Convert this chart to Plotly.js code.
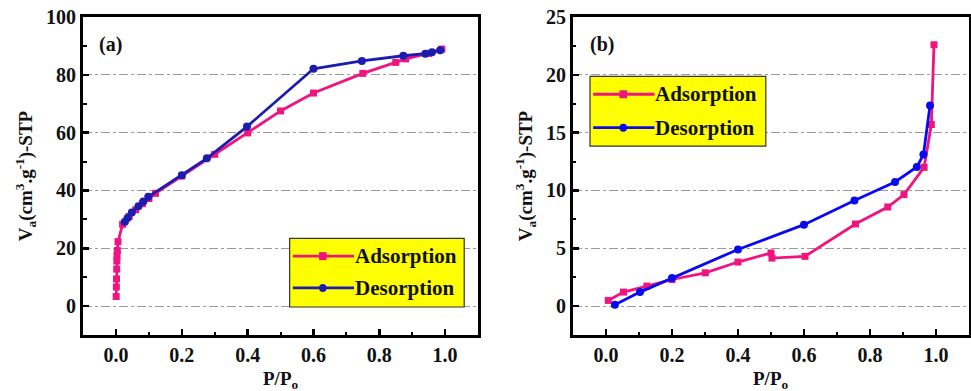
<!DOCTYPE html>
<html>
<head>
<meta charset="utf-8">
<script src="https://cdn.plot.ly/plotly-3.0.1.min.js"></script>
<style>
  html, body { margin: 0; padding: 0; background: #ffffff; }
  #chart { width: 971px; height: 391px; }
</style>
</head>
<body>
<div id="chart"></div>
<script>
// N2 isotherms, panel (a)
const adsA_x = [0.0005, 0.001, 0.0015, 0.002, 0.0025, 0.003, 0.004, 0.006, 0.02, 0.04, 0.06, 0.08, 0.1, 0.12, 0.2, 0.3, 0.4, 0.5, 0.6, 0.75, 0.85, 0.88, 0.95, 0.99];
const adsA_y = [3.3, 6.6, 9.4, 12.8, 15.6, 17.4, 19.2, 22.3, 28.3, 31.0, 33.3, 35.4, 37.2, 39.0, 45.0, 52.5, 59.9, 67.5, 73.7, 80.5, 84.3, 85.5, 87.4, 88.9];
const desA_x = [0.985, 0.96, 0.94, 0.873, 0.747, 0.6, 0.398, 0.276, 0.2, 0.098, 0.083, 0.068, 0.048, 0.035, 0.027];
const desA_y = [88.5, 87.8, 87.3, 86.6, 84.8, 82.1, 62.1, 51.1, 45.3, 37.8, 36.2, 34.5, 32.4, 30.5, 29.2];

// N2 isotherms, panel (b)
const adsB_x = [0.007, 0.053, 0.124, 0.2, 0.301, 0.4, 0.5, 0.503, 0.603, 0.756, 0.854, 0.903, 0.964, 0.986, 0.994];
const adsB_y = [0.49, 1.21, 1.73, 2.3, 2.88, 3.81, 4.59, 4.15, 4.3, 7.1, 8.57, 9.64, 12.0, 15.7, 22.6];
const desB_x = [0.982, 0.962, 0.942, 0.876, 0.753, 0.6, 0.4, 0.2, 0.103, 0.027];
const desB_y = [17.35, 13.1, 12.03, 10.73, 9.14, 7.04, 4.9, 2.42, 1.21, 0.11];

const seriesNames = ['Adsorption', 'Desorption'];
const panelLabels = ['(a)', '(b)'];
const xTickLabels = ['0.0', '0.2', '0.4', '0.6', '0.8', '1.0'];
const xTitle = '<b>P/P<sub>o</sub></b>';
const yTitle = '<b>V<sub>a</sub>(cm<sup>3</sup>.g<sup>-1</sup>)-STP</b>';

const FONT = 'Liberation Serif, Times New Roman, serif';
const PINK = '#f0147f';
const BLUE_A = '#1c1cb0';
const BLUE_B = '#0a0aee';

function line(x, y, color, symbol, xa, ya, name) {
  return {
    x: x, y: y, xaxis: xa, yaxis: ya, name: name,
    type: 'scatter', mode: 'lines+markers', showlegend: false,
    line: { color: color, width: 2.8 },
    marker: { color: color, symbol: symbol, size: symbol === 'square' ? 7 : 8 }
  };
}

const data = [
  line(adsA_x, adsA_y, PINK, 'square', 'x', 'y', seriesNames[0]),
  line(desA_x, desA_y, BLUE_A, 'circle', 'x', 'y', seriesNames[1]),
  line(adsB_x, adsB_y, PINK, 'square', 'x2', 'y2', seriesNames[0]),
  line(desB_x, desB_y, BLUE_B, 'circle', 'x2', 'y2', seriesNames[1])
];

function xaxis(domain, anchor) {
  return {
    domain: domain, anchor: anchor, range: [-0.1, 1.1],
    tickvals: [0, 0.2, 0.4, 0.6, 0.8, 1.0],
    ticktext: xTickLabels.map(t => '<b>' + t + '</b>'),
    ticks: 'inside', ticklen: 6, tickwidth: 2.5, tickcolor: '#000',
    minor: { dtick: 0.1, tick0: 0, ticks: 'inside', ticklen: 3.5, tickwidth: 2, tickcolor: '#000', showgrid: false },
    showgrid: false, zeroline: false,
    showline: true, linecolor: '#000', linewidth: 3, mirror: true,
    tickfont: { family: FONT, size: 20, color: '#111' }
  };
}

function yaxis(domain, anchor, range, minor, vals) {
  return {
    domain: domain, anchor: anchor, range: range,
    tickvals: vals, ticktext: vals.map(v => '<b>' + v + '</b>'),
    ticks: 'inside', ticklen: 6, tickwidth: 2.5, tickcolor: '#000',
    minor: { dtick: minor, tick0: 0, ticks: 'inside', ticklen: 3.5, tickwidth: 2, tickcolor: '#000', showgrid: false },
    showgrid: true, gridcolor: '#9a9a9a', gridwidth: 1, griddash: 'dashdot',
    zeroline: false,
    showline: true, linecolor: '#000', linewidth: 3, mirror: true,
    tickfont: { family: FONT, size: 20, color: '#111' },
    title: { text: yTitle, font: { family: FONT, size: 19, color: '#111' }, standoff: 9 }
  };
}

// Hand-drawn legend boxes (line sample, marker and text) in axis-domain units
function legendItems(xr, yr, box, rows, blue) {
  const shapes = [];
  const ann = [];
  shapes.push({ type: 'rect', xref: xr + ' domain', yref: yr + ' domain',
    x0: box[0], x1: box[1], y0: box[2], y1: box[3],
    fillcolor: '#ffff00', line: { color: '#333', width: 1.2 }, layer: 'above' });
  const colors = [PINK, blue];
  rows.forEach((ry, i) => {
    shapes.push({ type: 'line', xref: xr + ' domain', yref: yr + ' domain',
      x0: box[0] + 0.008, x1: box[0] + 0.163, y0: ry, y1: ry,
      line: { color: colors[i], width: 2.8 }, layer: 'above' });
    const cx = box[0] + 0.084;
    const hw = 0.0095, hh = 0.0125;
    shapes.push({ type: i === 0 ? 'rect' : 'circle', xref: xr + ' domain', yref: yr + ' domain',
      x0: cx - hw, x1: cx + hw, y0: ry - hh, y1: ry + hh,
      fillcolor: colors[i], line: { color: colors[i], width: 0 }, layer: 'above' });
    ann.push({ xref: xr + ' domain', yref: yr + ' domain', x: box[0] + 0.160, y: ry,
      xanchor: 'left', yanchor: 'middle', showarrow: false, text: '<b>' + seriesNames[i] + '</b>',
      font: { family: FONT, size: 21, color: '#111' } });
  });
  return { shapes, ann };
}

const legA = legendItems('x', 'y', [0.523, 0.965, 0.088, 0.304], [0.248, 0.148], BLUE_A);
const legB = legendItems('x2', 'y2', [0.043, 0.487, 0.594, 0.813], [0.757, 0.652], BLUE_B);

// x-axis titles sit low, near the bottom edge
function xTitleAnn(xr) {
  return { xref: xr + ' domain', yref: 'paper', x: 0.5, y: -0.098, xanchor: 'center', yanchor: 'top',
    showarrow: false, text: xTitle, font: { family: FONT, size: 19, color: '#111' } };
}

const layout = {
  width: 971, height: 391,
  margin: { l: 0, r: 0, t: 17, b: 56 },
  paper_bgcolor: '#ffffff', plot_bgcolor: '#ffffff',
  showlegend: false,
  font: { family: FONT },
  xaxis: xaxis([0.0856, 0.4923], 'y'),
  yaxis: yaxis([0, 1], 'x', [-10, 100], 10, [0, 20, 40, 60, 80, 100]),
  xaxis2: xaxis([0.5901, 0.9979], 'y2'),
  yaxis2: yaxis([0, 1], 'x2', [-2.5, 25], 2.5, [0, 5, 10, 15, 20, 25]),
  shapes: legA.shapes.concat(legB.shapes),
  annotations: legA.ann.concat(legB.ann).concat([
    { xref: 'x domain', yref: 'y domain', x: 0.035, y: 0.915, xanchor: 'left', yanchor: 'middle',
      showarrow: false, text: '<b>' + panelLabels[0] + '</b>', font: { family: FONT, size: 20, color: '#111' } },
    { xref: 'x2 domain', yref: 'y2 domain', x: 0.038, y: 0.915, xanchor: 'left', yanchor: 'middle',
      showarrow: false, text: '<b>' + panelLabels[1] + '</b>', font: { family: FONT, size: 20, color: '#111' } },
    xTitleAnn('x'), xTitleAnn('x2')
  ])
};

Plotly.newPlot('chart', data, layout, { displayModeBar: false, staticPlot: true });
</script>
</body>
</html>
